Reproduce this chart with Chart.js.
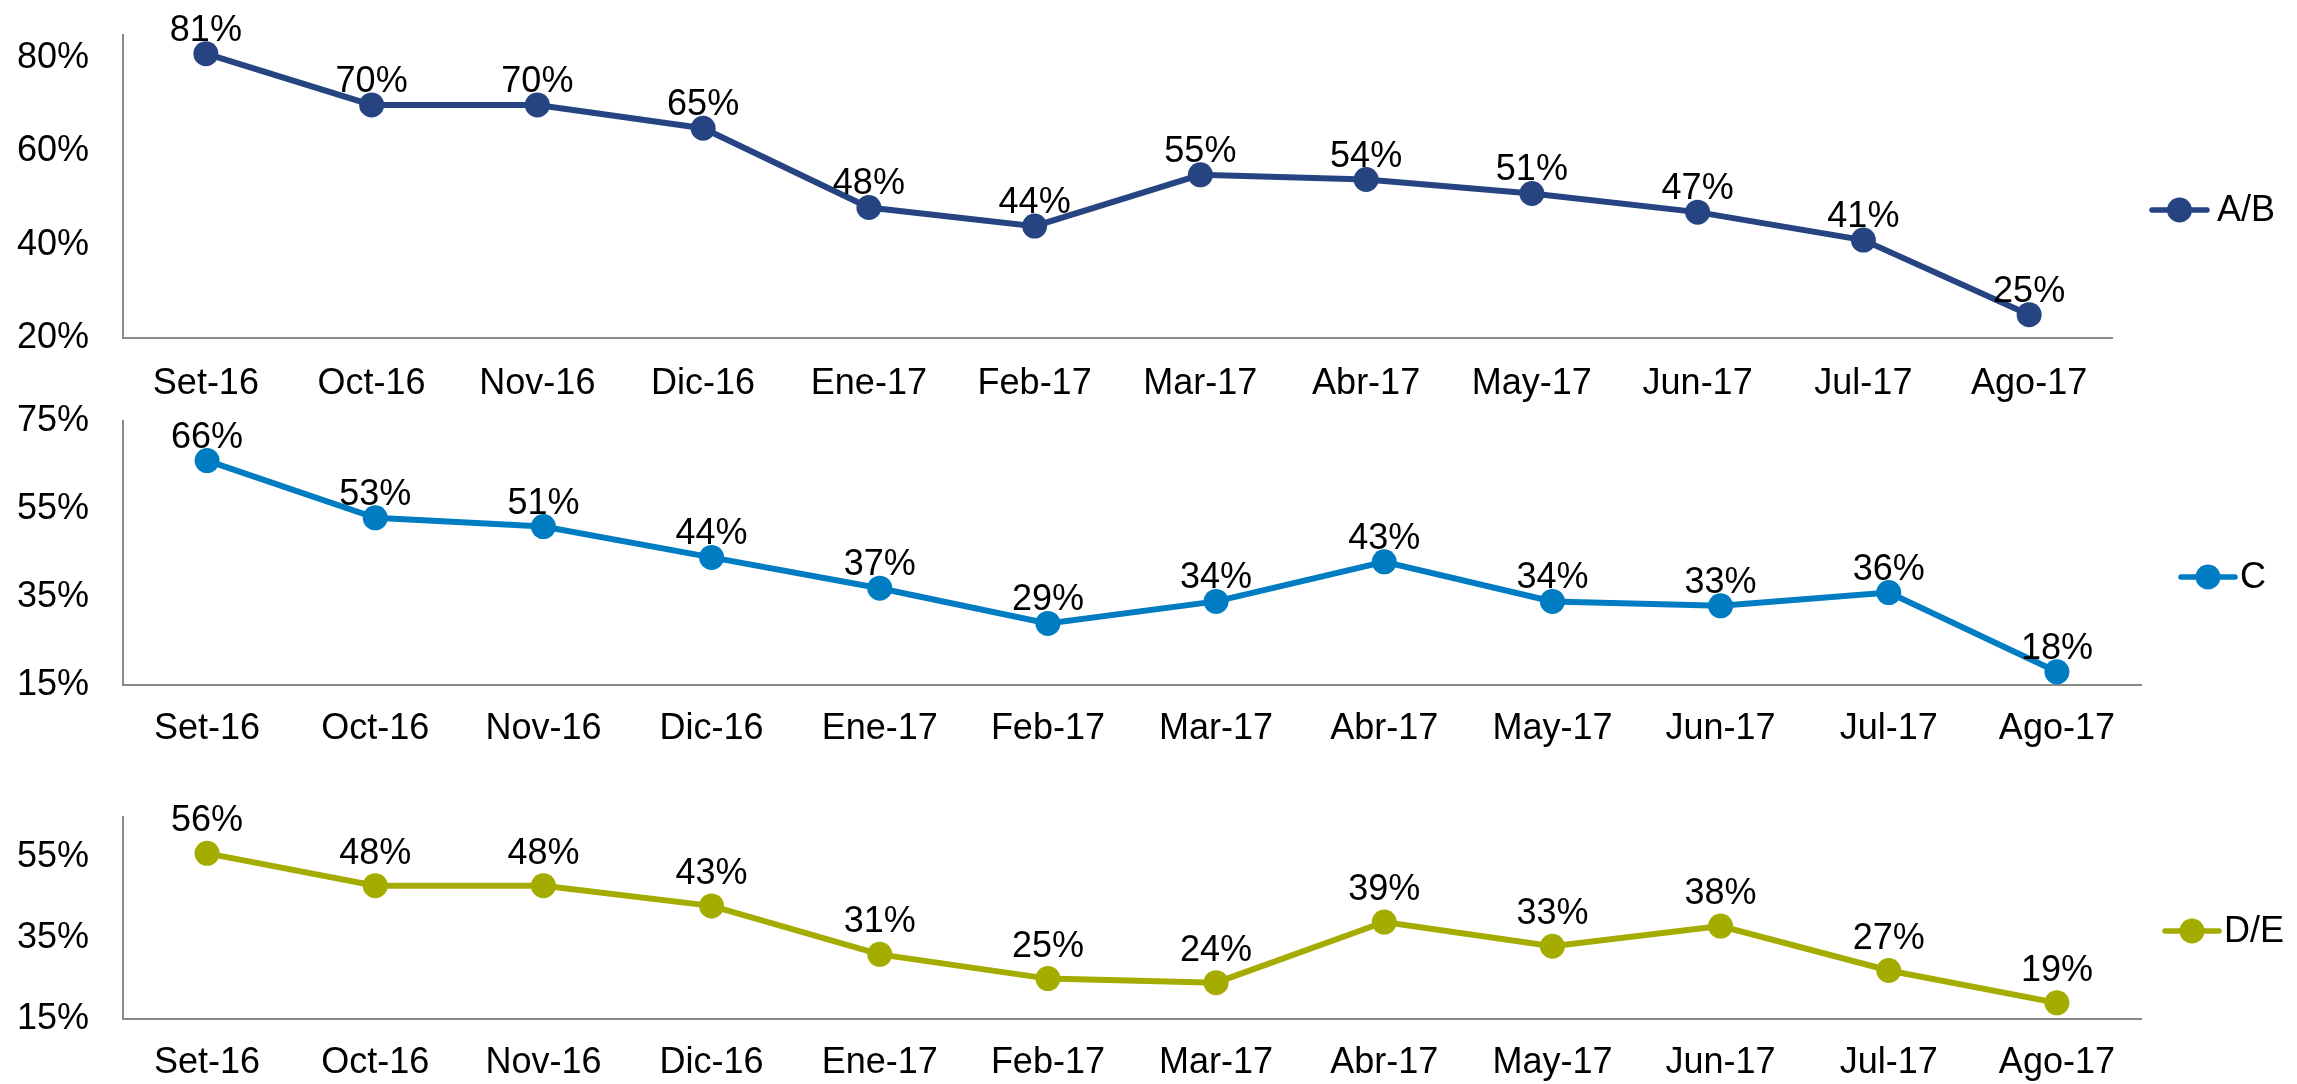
<!DOCTYPE html>
<html>
<head>
<meta charset="utf-8">
<script src="https://cdn.jsdelivr.net/npm/chart.js@4.4.1/dist/chart.umd.min.js"></script>
<style>
  html, body { margin: 0; padding: 0; background: #ffffff; }
  #wrap { position: relative; width: 2297px; height: 1084px; overflow: hidden; }
  #wrap canvas { position: absolute; left: 0; top: 0; }
</style>
</head>
<body>
<div id="wrap">
  <canvas id="c1" width="2297" height="1084"></canvas>
  <canvas id="c2" width="2297" height="1084"></canvas>
  <canvas id="c3" width="2297" height="1084"></canvas>
</div>
<script>
// ---- Data ----
const categories = ["Set-16","Oct-16","Nov-16","Dic-16","Ene-17","Feb-17","Mar-17","Abr-17","May-17","Jun-17","Jul-17","Ago-17"];
const seriesNames = ["A/B", "C", "D/E"];
const valuesAB = [81, 70, 70, 65, 48, 44, 55, 54, 51, 47, 41, 25];
const valuesC  = [66, 53, 51, 44, 37, 29, 34, 43, 34, 33, 36, 18];
const valuesDE = [56, 48, 48, 43, 31, 25, 24, 39, 33, 38, 27, 19];
const ticksAB = [20, 40, 60, 80];
const ticksC  = [15, 35, 55, 75];
const ticksDE = [15, 35, 55];
const rangeAB = [20, 85];
const rangeC  = [15, 75];
const rangeDE = [15, 65];

// ---- Style / layout ----
const W = 2297, H = 1084;
const FONT = "'Liberation Sans', Arial, Helvetica, sans-serif";
const FS = 36;
const AXIS_COLOR = "#8a8a8a";
Chart.defaults.font.family = FONT;
Chart.defaults.font.size = FS;
Chart.defaults.color = "#000000";

const panels = [
  { id: "c1", name: seriesNames[0], values: valuesAB, ticks: ticksAB, range: rangeAB, color: "#264482",
    top: 35, bottom: 338, right: 2112, tickPad: 24, labelOffset: 13,
    legend: { x1: 2152, x2: 2207, y: 210, tx: 2217 } },
  { id: "c2", name: seriesNames[1], values: valuesC, ticks: ticksC, range: rangeC, color: "#007cc3",
    top: 421, bottom: 685, right: 2141, tickPad: 22, labelOffset: 13,
    legend: { x1: 2181, x2: 2235, y: 577, tx: 2240 } },
  { id: "c3", name: seriesNames[2], values: valuesDE, ticks: ticksDE, range: rangeDE, color: "#a5ac00",
    top: 817, bottom: 1019, right: 2141, tickPad: 22, labelOffset: 22,
    legend: { x1: 2165, x2: 2219, y: 931, tx: 2224 } }
];

const X_AXIS_H = 64;
const Y_AXIS_W = 123;

const dataLabelPlugin = {
  id: "dataLabels",
  afterDatasetsDraw(chart, args, opts) {
    const ctx = chart.ctx;
    chart.data.datasets.forEach((ds, di) => {
      const meta = chart.getDatasetMeta(di);
      ctx.save();
      ctx.font = FS + "px " + FONT;
      ctx.fillStyle = "#000000";
      ctx.textAlign = "center";
      ctx.textBaseline = "alphabetic";
      meta.data.forEach((pt, i) => {
        ctx.fillText(ds.data[i] + "%", pt.x, pt.y - opts.offset);
      });
      ctx.restore();
    });
  }
};

const legendPlugin = {
  id: "sideLegend",
  afterDraw(chart, args, opts) {
    const ctx = chart.ctx;
    const L = opts.pos;
    ctx.save();
    ctx.strokeStyle = opts.color;
    ctx.lineWidth = 5.5;
    ctx.lineCap = "round";
    ctx.beginPath();
    ctx.moveTo(L.x1, L.y);
    ctx.lineTo(L.x2, L.y);
    ctx.stroke();
    ctx.fillStyle = opts.color;
    ctx.beginPath();
    ctx.arc((L.x1 + L.x2) / 2, L.y, 12.5, 0, Math.PI * 2);
    ctx.fill();
    ctx.fillStyle = "#000000";
    ctx.font = FS + "px " + FONT;
    ctx.textAlign = "left";
    ctx.textBaseline = "middle";
    ctx.fillText(opts.text, L.tx, L.y + 1);
    ctx.restore();
  }
};

panels.forEach(p => {
  new Chart(document.getElementById(p.id), {
    type: "line",
    data: {
      labels: categories,
      datasets: [{
        label: p.name, data: p.values,
        borderColor: p.color, backgroundColor: p.color,
        borderWidth: 6, pointRadius: 12.5, pointHoverRadius: 12.5,
        pointBackgroundColor: p.color, pointBorderWidth: 0,
        tension: 0, fill: false, clip: false
      }]
    },
    options: {
      responsive: false, animation: false, devicePixelRatio: 1, events: [],
      layout: { padding: { left: 0, top: p.top, right: W - p.right, bottom: H - p.bottom - X_AXIS_H } },
      plugins: {
        legend: { display: false }, tooltip: { enabled: false },
        dataLabels: { offset: p.labelOffset },
        sideLegend: { pos: p.legend, color: p.color, text: p.name }
      },
      scales: {
        x: {
          type: "category", offset: true,
          grid: { display: false, drawTicks: false, tickLength: 0 },
          border: { display: true, color: AXIS_COLOR, width: 2 },
          ticks: { padding: p.tickPad, maxRotation: 0, autoSkip: false, color: "#000", font: { size: FS } },
          afterFit(scale) { scale.height = X_AXIS_H; }
        },
        y: {
          type: "linear", min: p.range[0], max: p.range[1],
          grid: { display: false, drawTicks: false, tickLength: 0 },
          border: { display: true, color: AXIS_COLOR, width: 2 },
          ticks: { padding: 34, color: "#000", font: { size: FS }, callback: v => v + "%" },
          afterBuildTicks(scale) { scale.ticks = p.ticks.map(v => ({ value: v })); },
          afterFit(scale) { scale.width = Y_AXIS_W; scale.paddingTop = 0; scale.paddingBottom = 0; }
        }
      }
    },
    plugins: [dataLabelPlugin, legendPlugin]
  });
});
</script>
</body>
</html>
